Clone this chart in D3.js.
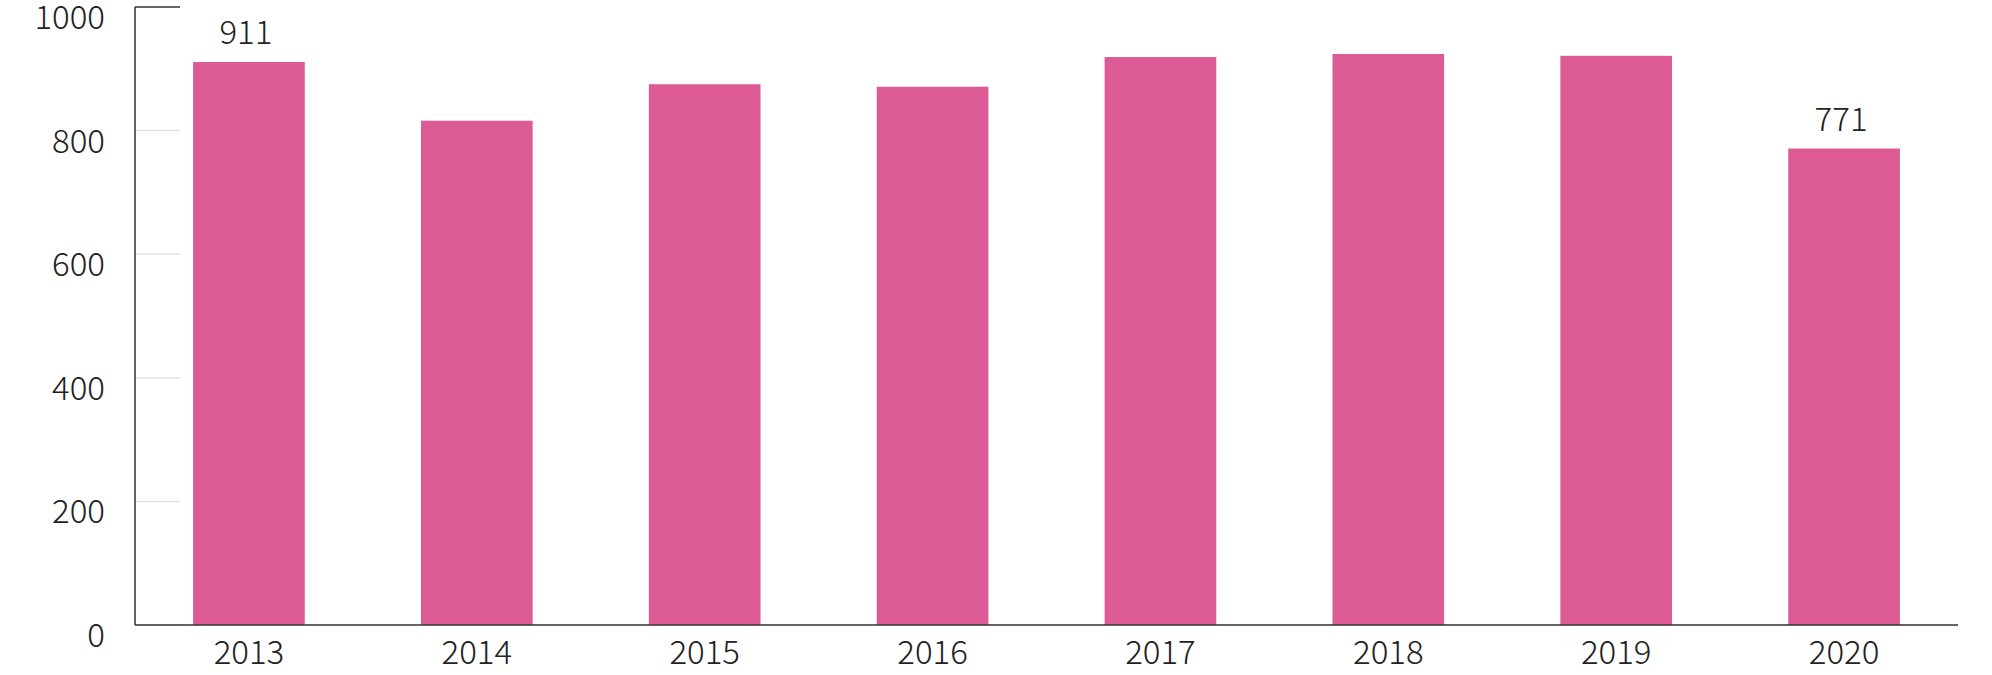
<!DOCTYPE html>
<html>
<head>
<meta charset="utf-8">
<script src="https://cdn.jsdelivr.net/npm/d3@7"></script>
<style>
  html, body { margin: 0; padding: 0; background: #fff; }
  text { font-family: "Noto Sans CJK JP", "Noto Sans", sans-serif; font-weight: 300; fill: #222; }
</style>
</head>
<body>
<div id="chart"></div>
<script>
// data
var years = ['2013', '2014', '2015', '2016', '2017', '2018', '2019', '2020'];
var values = [911, 816, 875, 871, 919, 924, 921, 771];
var labelled = ['2013', '2020'];
var yTicks = [0, 200, 400, 600, 800, 1000];

var width = 1992;
var height = 675;
var plotLeft = 135, plotRight = 1958, plotTop = 7, plotBottom = 625;

var svg = d3.select('#chart')
    .append('svg')
    .attr('width', width)
    .attr('height', height)
    .attr('viewBox', '0 0 ' + width + ' ' + height);

var x = d3.scaleBand()
    .domain(years)
    .range([plotLeft, plotRight])
    .paddingInner(0.51)
    .paddingOuter(0.255);

var y = d3.scaleLinear()
    .domain([0, 1000])
    .range([plotBottom, plotTop]);

// short light grid ticks
svg.append('g')
    .selectAll('line')
    .data(yTicks)
    .enter().append('line')
    .attr('x1', plotLeft)
    .attr('x2', plotLeft + 45)
    .attr('y1', function (d) { return y(d); })
    .attr('y2', function (d) { return y(d); })
    .attr('stroke', function (d) { return d === 1000 ? '#333' : '#e2e2e2'; })
    .attr('stroke-width', 1.5);

// tick labels
svg.append('g')
    .selectAll('text')
    .data(yTicks)
    .enter().append('text')
    .attr('x', 105)
    .attr('y', function (d) { return y(d) + 22; })
    .attr('text-anchor', 'end')
    .attr('font-size', 33)
    .text(function (d) { return d; });

// bars
svg.append('g')
    .selectAll('rect')
    .data(values)
    .enter().append('rect')
    .attr('x', function (d, i) { return x(years[i]); })
    .attr('y', function (d) { return y(d); })
    .attr('width', x.bandwidth())
    .attr('height', function (d) { return y(0) - y(d); })
    .attr('fill', '#dc5b94');

// axis lines
svg.append('line')
    .attr('x1', plotLeft).attr('x2', plotLeft)
    .attr('y1', plotTop).attr('y2', plotBottom)
    .attr('stroke', '#333').attr('stroke-width', 1.5);
svg.append('line')
    .attr('x1', plotLeft).attr('x2', plotRight)
    .attr('y1', plotBottom).attr('y2', plotBottom)
    .attr('stroke', '#333').attr('stroke-width', 1.5);

// x labels
svg.append('g')
    .selectAll('text')
    .data(years)
    .enter().append('text')
    .attr('x', function (d) { return x(d) + x.bandwidth() / 2; })
    .attr('y', 664)
    .attr('text-anchor', 'middle')
    .attr('font-size', 33)
    .text(function (d) { return d; });

// value labels on first and last bar
svg.append('g')
    .selectAll('text')
    .data(labelled)
    .enter().append('text')
    .attr('x', function (d) { return x(d) + x.bandwidth() / 2 - 3; })
    .attr('y', function (d) { return y(values[years.indexOf(d)]) - 18; })
    .attr('text-anchor', 'middle')
    .attr('font-size', 33)
    .text(function (d) { return values[years.indexOf(d)]; });
</script>
</body>
</html>
